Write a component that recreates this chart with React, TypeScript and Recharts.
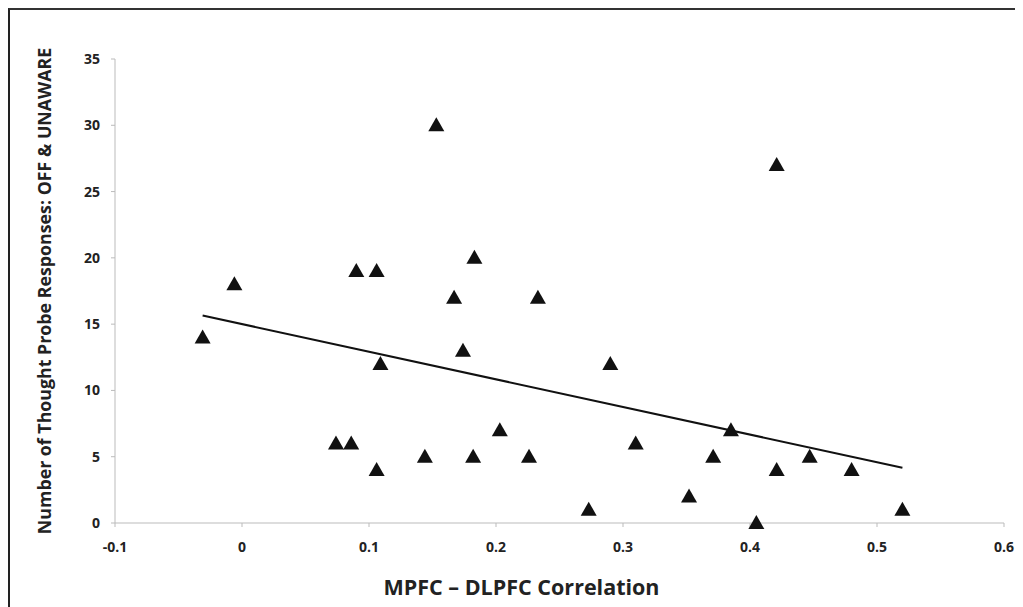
import React from 'react';
import { ScatterChart, Scatter, XAxis, YAxis } from 'recharts';

// MPFC-DLPFC correlation per participant
const correlation = [
  -0.031, -0.006, 0.074, 0.086, 0.09, 0.106, 0.106, 0.109, 0.144, 0.153,
  0.167, 0.174, 0.182, 0.183, 0.203, 0.226, 0.233, 0.273, 0.29, 0.31,
  0.352, 0.371, 0.385, 0.405, 0.421, 0.421, 0.447, 0.48, 0.52,
];

// thought probe responses: OFF & UNAWARE
const responses = [
  14, 18, 6, 6, 19, 19, 4, 12, 5, 30,
  17, 13, 5, 20, 7, 5, 17, 1, 12, 6,
  2, 5, 7, 0, 4, 27, 5, 4, 1,
];

// fitted line end points as drawn
const trendX = [-0.031, 0.52];
const trendY = [15.65, 4.17];

const xTicks = [-0.1, 0, 0.1, 0.2, 0.3, 0.4, 0.5, 0.6];
const yTicks = [0, 5, 10, 15, 20, 25, 30, 35];

const points = correlation.map((x, i) => ({ x, y: responses[i] }));
const trend = trendX.map((x, i) => ({ x, y: trendY[i] }));

const font = '"Open Sans", sans-serif';

const Triangle = (props: any) => {
  const { cx, cy } = props;
  if (cx == null || cy == null) return null;
  return (
    <polygon
      points={`${cx},${cy - 8} ${cx - 8},${cy + 6} ${cx + 8},${cy + 6}`}
      fill="#111"
    />
  );
};

const XTick = (props: any) => {
  const { x, y, payload } = props;
  return (
    <text x={x} y={y} dy={11} textAnchor="middle" fill="#222" fontSize={14} fontWeight={700} fontFamily={font}>
      {payload.value}
    </text>
  );
};

const YTick = (props: any) => {
  const { x, y, payload } = props;
  return (
    <text x={x} y={y} dy={5} textAnchor="end" fill="#222" fontSize={14} fontWeight={700} fontFamily={font}>
      {payload.value}
    </text>
  );
};

const App: React.FC = () => {
  return (
    <div
      style={{
        width: 1015,
        height: 599,
        borderTop: '2px solid #333',
        borderLeft: '2px solid #222',
        background: '#fff',
        boxSizing: 'border-box',
      }}
    >
      <ScatterChart
        width={1013}
        height={597}
        margin={{ top: 49, right: 19, left: 20, bottom: 34 }}
      >
        <XAxis
          type="number"
          dataKey="x"
          domain={[-0.1, 0.6]}
          ticks={xTicks}
          tick={<XTick />}
          tickSize={4}
          tickMargin={14}
          height={50}
          stroke="#bbb"
          label={{
            value: 'MPFC – DLPFC Correlation',
            position: 'insideBottom',
            offset: -22,
            dx: -38,
            style: { fill: '#222', fontSize: 21.5, fontWeight: 700, fontFamily: font },
          }}
        />
        <YAxis
          type="number"
          dataKey="y"
          domain={[0, 35]}
          ticks={yTicks}
          tick={<YTick />}
          tickSize={4}
          tickMargin={11}
          width={85}
          stroke="#bbb"
          label={{
            value: 'Number of Thought Probe Responses: OFF & UNAWARE',
            angle: -90,
            position: 'insideLeft',
            offset: 15,
            dy: 0,
            style: { textAnchor: 'middle', fill: '#222', fontSize: 17.8, fontWeight: 700, fontFamily: font },
          }}
        />
        <Scatter
          data={points}
          shape={<Triangle />}
          fill="#111"
          isAnimationActive={false}
        />
        <Scatter
          data={trend}
          line={{ stroke: '#111', strokeWidth: 2 }}
          shape={() => null}
          isAnimationActive={false}
        />
      </ScatterChart>
    </div>
  );
};

export default App;
